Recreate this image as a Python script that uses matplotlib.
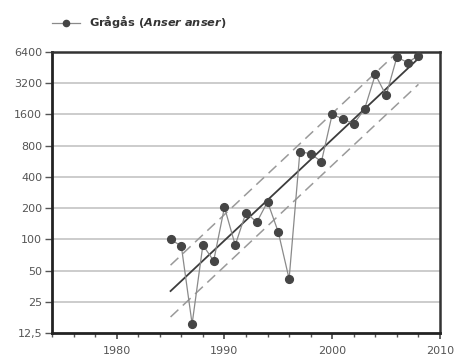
import numpy as np
import matplotlib
matplotlib.use("Agg")
import matplotlib.pyplot as plt
from matplotlib.ticker import FixedLocator, MultipleLocator

years = [1985, 1986, 1987, 1988, 1989, 1990, 1991, 1992, 1993, 1994, 1995, 1996,
         1997, 1998, 1999, 2000, 2001, 2002, 2003, 2004, 2005, 2006, 2007, 2008]
counts = [100, 86, 15.3, 88, 62, 204, 88, 181, 146, 230, 117, 41.5,
          702, 667, 562, 1610, 1442, 1299, 1800, 3884, 2440, 5720, 5060, 5920]
y_ticks = [12.5, 25, 50, 100, 200, 400, 800, 1600, 3200, 6400]
y_labels = ["12,5", "25", "50", "100", "200", "400", "800", "1600", "3200", "6400"]
x_ticks = [1980, 1990, 2000, 2010]
band = 0.83  # half-width of dashed band, in log2 units

plt.rcParams["font.family"] = ["DejaVu Sans"]
plt.rcParams["mathtext.fontset"] = "custom"
plt.rcParams["mathtext.it"] = "DejaVu Sans:bold:italic"
plt.rcParams["mathtext.rm"] = "DejaVu Sans:bold"

# trend fitted in log2 space
yr = np.array(years, dtype=float)
lc = np.log2(counts)
slope, icpt = np.polyfit(yr, lc, 1)
tx = np.array([yr.min(), yr.max()])
ty = slope * tx + icpt

fig = plt.figure(figsize=(4.56, 3.56), dpi=100)
ax = fig.add_axes([52 / 456, 1 - 333 / 356, 388 / 456, 281 / 356])

for v in y_ticks[1:-1]:
    ax.axhline(v, color="#c8c8c8", lw=1.3, zorder=0)

ax.plot(tx, 2 ** (ty + band), color="#9a9a9a", lw=1.1, ls=(0, (7, 4)), zorder=2)
ax.plot(tx, 2 ** (ty - band), color="#9a9a9a", lw=1.1, ls=(0, (7, 4)), zorder=2)
ax.plot(tx, 2 ** ty, color="#3c3c3c", lw=1.3, zorder=3)
series, = ax.plot(years, counts, color="#8a8a8a", lw=0.9, marker="o", ms=5.6,
                  mfc="#454545", mec="#454545", zorder=4)

ax.set_yscale("log", base=2)
ax.set_ylim(12.5, 6400)
ax.set_xlim(1974, 2010)
ax.yaxis.set_major_locator(FixedLocator(y_ticks))
ax.yaxis.set_minor_locator(FixedLocator([]))
ax.set_yticklabels(y_labels)
ax.xaxis.set_major_locator(FixedLocator(x_ticks))
ax.xaxis.set_minor_locator(MultipleLocator(2))

for s in ["left", "bottom"]:
    ax.spines[s].set_linewidth(2.0)
    ax.spines[s].set_color("#222222")
for s in ["top", "right"]:
    ax.spines[s].set_linewidth(1.8)
    ax.spines[s].set_color("#333333")

ax.tick_params(axis="y", which="major", length=5, width=1, color="#555555",
               labelsize=8, labelcolor="#555555", pad=2)
ax.tick_params(axis="x", which="major", length=4, width=1.2, color="#444444",
               labelsize=8, labelcolor="#555555", pad=5)
ax.tick_params(axis="x", which="minor", length=3, width=1, color="#555555")

leg = fig.legend(handles=[series], labels=["Grågås ($\\it{Anser\\ anser}$)"],
                 loc="center left", bbox_to_anchor=(42 / 456, 1 - 22 / 356),
                 frameon=False, handlelength=2.4, handletextpad=0.8,
                 markerscale=0.8, prop={"size": 8.2, "weight": "bold"})
for t in leg.get_texts():
    t.set_color("#333333")

fig.savefig("out.png", dpi=100)
